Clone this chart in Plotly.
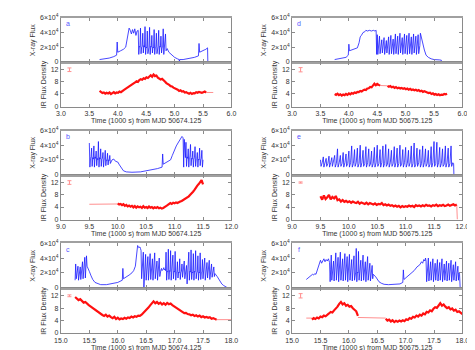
import plotly.graph_objects as go

# X-ray flux (units of 1e4) against time (1000 s)
xray_a_t = [3.68, 3.75, 3.85, 3.93, 3.98, 3.99, 4.0, 4.05, 4.1, 4.14, 4.17, 4.2, 4.22, 4.24, 4.26, 4.28, 4.3, 4.32, 4.34,
            4.36, 4.37, 4.38, 4.39, 4.40, 4.41, 4.42, 4.43, 4.44, 4.45, 4.46, 4.47, 4.48, 4.49, 4.50, 4.51,
            4.52, 4.53, 4.54, 4.55, 4.56, 4.57, 4.58, 4.59, 4.60, 4.61, 4.62, 4.63, 4.64, 4.65, 4.66, 4.67,
            4.68, 4.69, 4.70, 4.71, 4.72, 4.73, 4.74, 4.75, 4.76, 4.77, 4.78, 4.79, 4.80, 4.81, 4.82, 4.83,
            4.84, 4.85,
            4.87, 4.9, 4.95, 5.0, 5.05, 5.08, 5.085, 5.09, 5.15, 5.25, 5.35, 5.42, 5.43, 5.44, 5.48, 5.52, 5.55, 5.58, 5.585]
xray_a = [0.3, 0.35, 0.5, 0.7, 0.9, 2.7, 1.3, 1.5, 1.7, 2.0, 3.3, 4.6, 4.3, 3.8, 4.4, 3.9, 4.5, 3.6, 4.2,
          4.3, 1.0, 2.1, 2.0, 4.6, 1.1, 2.0, 2.1, 3.9, 1.2, 2.2, 2.0, 4.8, 1.0, 2.0, 1.9,
          4.2, 1.1, 1.9, 2.0, 4.7, 1.0, 2.1, 2.0, 3.6, 1.2, 2.0, 1.9, 4.4, 1.0, 1.9, 2.0,
          3.9, 1.1, 2.0, 2.1, 4.3, 1.0, 2.1, 2.0, 3.5, 1.2, 1.9, 2.0, 4.5, 1.0, 2.0, 2.1,
          3.8, 1.5,
          1.8, 1.3, 0.9, 0.6, 0.4, 0.3, 0.0, 0.3, 0.3, 0.4, 0.6, 0.8, 2.5, 1.3, 1.4, 1.6, 1.7, 1.9, 0.0]

xray_b_t = [9.50, 9.51, 9.52, 9.53, 9.54, 9.55, 9.56, 9.57, 9.58, 9.59, 9.60, 9.61, 9.62, 9.63, 9.64, 9.65,
            9.66, 9.67, 9.68, 9.69, 9.70, 9.71, 9.72, 9.73, 9.74, 9.75, 9.76, 9.77, 9.78, 9.79, 9.80, 9.81,
            9.82, 9.83, 9.84, 9.85, 9.86, 9.87,
            9.90, 9.93, 9.96, 10.0, 10.03, 10.06, 10.1, 10.15, 10.25, 10.4, 10.5, 10.6, 10.7, 10.78, 10.79,
            10.8, 10.85, 10.9, 10.93, 10.96, 11.0, 11.03, 11.06, 11.1, 11.13, 11.15,
            11.16, 11.17, 11.18, 11.19, 11.20, 11.21, 11.22, 11.23, 11.24, 11.25, 11.26, 11.27, 11.28, 11.29,
            11.30, 11.31, 11.32, 11.33, 11.34, 11.35, 11.36, 11.37, 11.38, 11.39, 11.40, 11.41, 11.42, 11.43,
            11.44, 11.45, 11.46, 11.47, 11.48, 11.49, 11.50]
xray_b = [4.3, 1.0, 2.2, 2.4, 3.6, 1.1, 2.3, 2.1, 3.9, 1.0, 2.4, 2.2, 3.2, 1.2, 2.2, 2.0,
          4.5, 1.0, 2.3, 2.1, 3.5, 1.1, 2.1, 2.2, 3.0, 1.0, 2.0, 2.1, 3.3, 1.2, 2.0, 1.9,
          2.9, 1.3, 2.0, 1.9, 2.6, 1.5,
          2.0, 2.1, 1.8, 1.7, 1.3, 0.9, 0.5, 0.35, 0.3, 0.35, 0.5, 0.6, 0.8, 1.0, 2.8,
          1.4, 1.6, 1.8, 2.0, 2.6, 3.4, 3.9, 4.3, 4.9, 5.2, 5.0,
          1.0, 4.8, 2.5, 2.3, 4.4, 1.1, 2.4, 2.2, 3.5, 1.0, 2.3, 2.5, 4.1, 1.2,
          2.2, 2.1, 3.2, 1.0, 2.1, 2.3, 3.8, 1.1, 2.0, 2.2, 3.0, 1.0, 2.1, 2.0,
          3.6, 1.2, 2.0, 2.2, 3.3, 1.0, 2.0]

xray_c_t = [15.25, 15.26, 15.27, 15.28, 15.29, 15.30, 15.31, 15.32, 15.33, 15.34, 15.35, 15.36, 15.37, 15.38,
            15.39, 15.40, 15.41, 15.42, 15.43, 15.44, 15.45,
            15.46, 15.48, 15.5, 15.53, 15.56, 15.6, 15.65, 15.7, 15.8, 15.9, 16.0, 16.08, 16.09, 16.1,
            16.15, 16.2, 16.25, 16.28, 16.31, 16.33, 16.35, 16.37, 16.39, 16.4,
            16.41, 16.42, 16.43, 16.44, 16.45, 16.46, 16.47, 16.48, 16.49, 16.50, 16.51, 16.52, 16.53, 16.54,
            16.55, 16.56, 16.57, 16.58, 16.59, 16.60, 16.61, 16.62, 16.63, 16.64, 16.65, 16.66, 16.67, 16.68,
            16.69, 16.70, 16.71, 16.72, 16.73, 16.74, 16.75, 16.76, 16.77, 16.78, 16.79, 16.80, 16.81, 16.82,
            16.83, 16.84, 16.85, 16.86, 16.87, 16.88, 16.89, 16.90, 16.91, 16.92, 16.93, 16.94, 16.95, 16.96,
            16.97, 16.98, 16.99, 17.00, 17.01, 17.02, 17.03, 17.04, 17.05, 17.06, 17.07, 17.08, 17.09, 17.10,
            17.11, 17.12, 17.13, 17.14, 17.15, 17.16, 17.17, 17.18, 17.19, 17.20, 17.21, 17.22, 17.23, 17.24,
            17.25, 17.26, 17.27, 17.28, 17.29, 17.30, 17.31, 17.32, 17.33, 17.34, 17.35, 17.36, 17.37, 17.38,
            17.39, 17.40, 17.41, 17.42, 17.43, 17.44, 17.45, 17.46, 17.47, 17.48, 17.49, 17.50, 17.51, 17.52,
            17.53, 17.54, 17.55, 17.56, 17.57, 17.58, 17.59, 17.60, 17.61, 17.62, 17.63, 17.64, 17.65, 17.66,
            17.67, 17.68, 17.69, 17.70, 17.71, 17.72,
            17.75, 17.78, 17.8, 17.83, 17.86, 17.9, 17.92, 17.925]
xray_c = [1.0, 3.2, 1.2, 1.9, 1.8, 2.9, 1.0, 2.0, 2.1, 2.8, 1.1, 2.3, 2.2, 3.5,
          1.2, 2.5, 2.6, 4.1, 1.3, 2.8, 4.3,
          2.9, 2.6, 2.2, 1.6, 1.1, 0.7, 0.5, 0.4, 0.4, 0.5, 0.7, 1.0, 2.6, 1.2,
          1.4, 1.7, 2.0, 2.3, 2.9, 4.5, 5.7, 5.4, 5.5, 5.3,
          5.0, 1.2, 2.5, 2.4, 4.8, 0.0, 2.3, 2.2, 4.5, 1.0, 2.2, 2.1, 4.2, 1.0,
          2.3, 2.2, 4.6, 1.1, 2.1, 2.0, 3.9, 1.0, 2.2, 2.1, 4.7, 1.2, 2.0, 2.2,
          3.6, 1.0, 2.1, 2.0, 4.0, 1.5, 2.3, 2.4, 2.6, 2.3, 2.4, 2.5, 2.7, 2.4,
          2.5, 2.3, 4.8, 1.0, 2.2, 2.1, 5.2, 1.1, 2.3, 2.2, 5.0, 1.0, 2.1, 2.0,
          4.4, 1.2, 2.2, 2.1, 4.9, 1.0, 2.0, 2.1, 3.5, 1.3, 2.1, 2.0, 3.9, 1.1,
          2.0, 2.2, 3.2, 1.4, 2.1, 2.0, 3.6, 1.2, 2.0, 1.9, 3.0, 0.5, 2.0, 2.1,
          4.8, 1.0, 2.2, 2.1, 5.1, 1.1, 2.1, 2.0, 4.6, 1.0, 2.2, 2.1, 5.0, 1.2,
          2.0, 2.1, 4.3, 1.0, 2.1, 2.0, 4.7, 1.1, 2.0, 2.1, 3.8, 1.2, 2.1, 2.0,
          4.0, 1.0, 2.0, 1.9, 3.4, 1.3, 2.0, 2.1, 3.7, 1.1, 1.9, 2.0, 3.2, 1.4,
          2.0, 1.9, 2.8, 1.5, 1.9, 1.8,
          1.5, 1.1, 0.8, 0.5, 0.3, 0.15, 0.1, 0.0]

xray_d_t = [3.75, 3.85, 3.95, 3.99, 4.0, 4.01, 4.05, 4.1, 4.15, 4.18, 4.2, 4.22, 4.25, 4.28, 4.3, 4.33,
            4.36, 4.4, 4.43, 4.46, 4.48, 4.49,
            4.50, 4.51, 4.52, 4.53, 4.54, 4.55, 4.56, 4.57, 4.58, 4.59, 4.60, 4.61, 4.62, 4.63, 4.64, 4.65,
            4.66, 4.67, 4.68, 4.69, 4.70, 4.71, 4.72, 4.73, 4.74, 4.75, 4.76, 4.77, 4.78, 4.79, 4.80, 4.81,
            4.82, 4.83, 4.84, 4.85, 4.86, 4.87, 4.88, 4.89, 4.90, 4.91, 4.92, 4.93, 4.94, 4.95, 4.96, 4.97,
            4.98, 4.99, 5.00, 5.01, 5.02, 5.03, 5.04, 5.05, 5.06, 5.07, 5.08, 5.09, 5.10, 5.11, 5.12, 5.13,
            5.14, 5.15, 5.16, 5.17, 5.18, 5.19, 5.20, 5.21, 5.22, 5.23,
            5.25, 5.26, 5.28, 5.3, 5.33, 5.36, 5.4, 5.45, 5.5, 5.6, 5.63, 5.632]
xray_d = [0.3, 0.4, 0.6, 0.9, 2.4, 1.5, 1.6, 1.7, 1.9, 2.6, 3.4, 3.6, 4.0, 4.1, 4.3, 4.2,
          4.3, 4.2, 4.3, 4.2, 4.3, 1.0,
          3.7, 1.0, 2.2, 2.0, 3.5, 1.1, 2.0, 2.1, 3.0, 1.2, 2.1, 1.9, 3.3, 1.0, 1.9, 2.0,
          2.9, 1.2, 2.0, 2.1, 3.4, 1.0, 2.1, 2.0, 3.6, 1.1, 2.0, 1.9, 3.1, 1.0, 1.9, 2.0,
          3.8, 1.1, 2.1, 2.0, 3.5, 1.0, 2.0, 2.1, 3.9, 1.2, 2.1, 2.0, 3.3, 1.0, 1.9, 2.0,
          3.8, 1.1, 2.0, 2.1, 3.6, 1.0, 2.1, 2.0, 3.9, 1.1, 2.0, 1.9, 3.4, 1.0, 1.9, 2.0,
          3.8, 1.2, 2.1, 2.0, 3.5, 1.0, 2.0, 2.1, 3.7, 1.1,
          2.2, 3.9, 3.2, 2.6, 1.6, 0.9, 0.6, 0.4, 0.3, 0.25, 0.2, 0.0]

xray_e_t = [9.50, 9.51, 9.53, 9.55, 9.56, 9.58, 9.60, 9.61, 9.63, 9.65, 9.66, 9.68, 9.70, 9.71, 9.73,
            9.75, 9.76, 9.78, 9.80, 9.81, 9.83, 9.85, 9.86, 9.88, 9.90, 9.91, 9.93, 9.95, 9.96, 9.98,
            10.00, 10.01, 10.03, 10.05, 10.06, 10.08, 10.10, 10.11, 10.13, 10.15, 10.16, 10.18,
            10.20, 10.21, 10.23, 10.25, 10.26, 10.28, 10.30, 10.31, 10.33, 10.35, 10.36, 10.38,
            10.40, 10.41, 10.43, 10.45, 10.46, 10.48, 10.50, 10.51, 10.53, 10.55, 10.56, 10.58,
            10.60, 10.61, 10.63, 10.65, 10.66, 10.68, 10.70, 10.71, 10.73, 10.75, 10.76, 10.78,
            10.80, 10.81, 10.83, 10.85, 10.86, 10.88, 10.90, 10.91, 10.93, 10.95, 10.96, 10.98,
            11.00, 11.01, 11.03, 11.05, 11.06, 11.08, 11.10, 11.11, 11.13, 11.15, 11.16, 11.18,
            11.20, 11.21, 11.23, 11.25, 11.26, 11.28, 11.30, 11.31, 11.33, 11.35, 11.36, 11.38,
            11.40, 11.41, 11.43, 11.45, 11.46, 11.48, 11.50, 11.51, 11.53, 11.55, 11.56, 11.58,
            11.60, 11.61, 11.63, 11.65, 11.66, 11.68, 11.70, 11.71, 11.73, 11.75, 11.76, 11.78,
            11.80, 11.81, 11.83, 11.845, 11.85]
xray_e = [2.0, 1.1, 1.6, 2.4, 1.0, 1.7, 2.2, 1.1, 1.5, 2.5, 1.0, 1.6, 2.3, 1.1, 1.7,
          2.6, 1.0, 1.5, 3.5, 1.0, 1.6, 2.6, 1.1, 1.5, 3.0, 1.0, 1.6, 2.8, 1.1, 1.5,
          3.2, 1.0, 1.6, 3.9, 1.0, 1.5, 3.4, 1.1, 1.6, 3.6, 1.0, 1.5,
          4.0, 1.0, 1.6, 3.3, 1.1, 1.5, 3.8, 1.0, 1.6, 3.5, 1.1, 1.4,
          3.2, 1.0, 1.5, 3.7, 1.0, 1.6, 4.0, 1.1, 1.5, 3.4, 1.0, 1.6,
          3.9, 1.0, 1.5, 4.1, 1.1, 1.4, 3.5, 1.0, 1.6, 3.3, 1.1, 1.5,
          3.8, 1.0, 1.6, 3.6, 1.0, 1.5, 4.0, 1.1, 1.4, 3.4, 1.0, 1.6,
          3.7, 1.0, 1.5, 3.3, 1.1, 1.6, 3.9, 1.0, 1.5, 4.3, 1.0, 1.4,
          3.6, 1.1, 1.6, 3.4, 1.0, 1.5, 3.9, 1.0, 1.6, 3.5, 1.1, 1.5,
          3.3, 1.0, 1.4, 3.8, 1.0, 1.6, 4.5, 1.1, 1.5, 4.4, 1.0, 1.6,
          3.7, 1.0, 1.5, 3.5, 1.1, 1.4, 3.9, 1.0, 1.6, 3.6, 1.0, 1.5,
          3.9, 1.1, 1.6, 1.5, 0.0]

xray_f_t = [15.25, 15.28, 15.3, 15.33, 15.36, 15.38, 15.4, 15.42, 15.44, 15.46, 15.48, 15.5, 15.52, 15.54,
            15.56, 15.58, 15.6, 15.62, 15.64, 15.66, 15.67, 15.68,
            15.69, 15.70, 15.71, 15.72, 15.73, 15.74, 15.75, 15.76, 15.77, 15.78, 15.79, 15.80, 15.81, 15.82,
            15.83, 15.84, 15.85, 15.86, 15.87, 15.88, 15.89, 15.90, 15.91, 15.92, 15.93, 15.94, 15.95, 15.96,
            15.97, 15.98, 15.99, 16.00, 16.01, 16.02, 16.03, 16.04, 16.05, 16.06, 16.07, 16.08, 16.09, 16.10,
            16.11, 16.12, 16.13, 16.14, 16.15, 16.16, 16.17, 16.18, 16.19, 16.20, 16.21, 16.22, 16.23, 16.24,
            16.25, 16.26, 16.27, 16.28, 16.29, 16.30, 16.31, 16.32, 16.33, 16.34, 16.35, 16.36, 16.37, 16.38,
            16.39, 16.40, 16.41, 16.42, 16.43, 16.44,
            16.47, 16.5, 16.53, 16.57, 16.62, 16.7, 16.8, 16.9, 16.95, 16.96, 16.97, 17.0, 17.05, 17.1,
            17.15, 17.2, 17.25, 17.28, 17.3, 17.32, 17.34, 17.35,
            17.36, 17.37, 17.38, 17.39, 17.40, 17.41, 17.42, 17.43, 17.44, 17.45, 17.46, 17.47, 17.48, 17.49,
            17.50, 17.51, 17.52, 17.53, 17.54, 17.55, 17.56, 17.57, 17.58, 17.59, 17.60, 17.61, 17.62, 17.63,
            17.64, 17.65, 17.66, 17.67, 17.68, 17.69, 17.70, 17.71, 17.72, 17.73, 17.74, 17.75, 17.76, 17.77,
            17.78, 17.79, 17.80, 17.81, 17.82, 17.83, 17.84, 17.85, 17.86, 17.87, 17.88, 17.89, 17.90, 17.91,
            17.92, 17.93, 17.94, 17.95, 17.96]
xray_f = [1.1, 1.3, 1.5, 1.6, 1.8, 1.7, 1.9, 1.8, 2.3, 3.0, 3.5, 3.7, 3.3, 3.6,
          3.9, 3.5, 3.8, 3.6, 3.9, 3.4, 0.8, 2.5,
          4.4, 1.0, 2.2, 2.1, 3.6, 0.9, 2.0, 2.2, 4.7, 1.0, 2.1, 2.0, 4.1, 0.8,
          2.2, 2.1, 4.8, 1.0, 2.0, 2.1, 3.9, 0.9, 2.1, 2.0, 4.6, 1.0, 2.2, 2.1,
          4.2, 0.8, 2.0, 2.2, 4.5, 1.0, 2.1, 2.0, 3.8, 0.9, 2.2, 2.1, 4.3, 1.0,
          2.0, 2.1, 5.3, 0.8, 2.1, 2.0, 4.9, 1.0, 2.2, 2.1, 3.7, 0.9, 2.0, 2.1,
          4.4, 1.0, 2.1, 2.0, 3.5, 0.8, 2.0, 2.1, 4.2, 1.0, 2.1, 2.0, 3.3, 0.9,
          1.9, 2.0, 3.0, 1.2, 1.8, 1.7,
          1.5, 1.1, 0.8, 0.6, 0.45, 0.4, 0.4, 0.5, 0.7, 2.4, 1.1, 1.3, 1.6, 1.9,
          2.3, 2.8, 3.1, 3.5, 3.3, 3.8, 3.6, 4.0,
          3.6, 0.8, 2.2, 2.1, 4.0, 0.9, 2.0, 2.1, 3.5, 1.0, 2.1, 2.0, 3.9, 0.8,
          2.2, 2.0, 3.3, 1.0, 2.0, 2.1, 3.8, 0.9, 2.1, 2.0, 3.4, 1.0, 2.0, 2.2,
          3.9, 0.8, 2.1, 2.0, 3.2, 1.0, 2.0, 2.1, 3.6, 0.9, 2.1, 2.0, 3.3, 1.0,
          2.0, 1.9, 3.7, 0.8, 2.1, 2.0, 3.1, 1.0, 1.9, 2.0, 3.5, 0.9, 2.0, 2.1,
          2.9, 1.0, 2.0, 1.8, 0.0]

# IR flux density, sampled evenly from a start time with a fixed step
ir_a_start, ir_a_step = 3.68, 0.025
ir_a = [5.0, 4.6, 4.3, 4.5, 4.1, 4.4, 4.2, 4.5, 4.0, 4.3, 4.6, 4.2, 4.5, 4.4, 4.8, 4.6, 5.1, 5.3, 5.6, 5.9,
        6.2, 6.5, 6.8, 7.0, 7.5, 7.8, 8.2, 8.0, 8.6, 8.9, 8.7, 9.2, 9.0, 9.5, 9.3, 9.8, 10.2, 9.7, 10.4, 9.9,
        10.1, 9.4, 9.2, 8.8, 9.0, 8.4, 8.1, 7.6, 7.4, 7.0, 6.6, 6.5, 6.1, 5.9, 5.5, 5.4, 5.0, 5.2, 4.8, 4.9,
        4.5, 4.6, 4.3, 4.1, 4.4, 4.0, 4.3, 4.2, 4.6, 4.4, 4.7, 4.5, 4.4, 4.6, 4.8, 4.5]
ir_a_gap_t = [5.555, 5.68]
ir_a_gap = [4.5, 4.5]

ir_b_start, ir_b_step = 10.0, 0.025
ir_b = [5.2, 4.8, 5.0, 4.6, 4.9, 4.4, 4.7, 4.2, 4.5, 4.1,
        4.4, 3.9, 4.3, 3.8, 4.2, 3.9, 4.1, 3.7, 4.3, 3.8,
        4.0, 3.7, 4.2, 3.8, 4.0, 3.6, 3.9, 3.7, 4.0, 3.6,
        3.8, 3.5, 3.7, 3.9, 4.3, 4.6, 5.0, 5.3, 5.0, 5.4,
        5.2, 5.5, 5.3, 5.7, 5.8, 6.0, 6.3, 6.5, 6.8, 7.2,
        7.5, 8.0, 8.4, 9.0, 9.6, 10.4, 11.0, 11.5, 12.3, 12.8, 11.4]
ir_b_gap_t = [9.5, 10.0]
ir_b_gap = [4.9, 5.0]

ir_c_start, ir_c_step = 15.25, 0.03
ir_c = [11.6, 11.0, 10.6, 10.9, 10.2, 9.8, 10.0, 9.4, 9.0, 8.6,
        8.2, 7.6, 7.3, 7.0, 6.4, 6.0, 5.8, 5.5, 5.9, 5.3,
        5.6, 5.1, 4.8, 5.2, 4.5, 4.9, 4.4, 4.7, 4.5, 4.9,
        4.6, 5.0, 4.8, 5.3, 5.0, 5.4, 5.2, 5.6, 5.5, 5.9,
        6.4, 7.0, 7.6, 8.2, 8.9, 9.5, 10.2, 9.6, 10.0, 9.4,
        9.8, 9.2, 9.6, 9.1, 9.7, 9.3, 9.5, 9.0, 8.6, 8.2,
        7.8, 7.4, 7.0, 6.8, 6.4, 6.5, 6.1, 6.0, 5.7, 5.9,
        5.5, 5.7, 5.3, 5.6, 5.1, 5.4, 5.0, 5.2, 4.9, 5.1,
        4.6, 4.8, 4.4, 4.3]
ir_c_gap_t = [17.74, 18.0]
ir_c_gap = [4.3, 4.3]

ir_d1_start, ir_d_step = 3.75, 0.025
ir_d1 = [4.0, 3.7, 4.1, 3.6, 3.9, 3.5, 3.8, 3.6, 4.0, 3.7, 4.2, 3.9, 4.3, 4.1, 4.5, 4.3, 4.7, 4.6, 5.0, 4.8,
         5.2, 5.4, 5.3, 5.8, 5.9, 6.3, 6.2, 6.8, 7.4, 6.9, 7.3, 7.0, 6.8]
ir_d2_start = 4.68
ir_d2 = [6.7, 6.4, 6.6, 6.2, 6.4, 6.0, 6.3, 5.9, 6.1, 5.8, 6.0, 5.7, 5.9, 5.6, 5.8, 5.4, 5.7, 5.3, 5.5, 5.2,
         5.4, 5.1, 5.3, 4.9, 5.1, 4.7, 4.9, 4.6, 4.5, 4.3, 4.4, 4.0, 4.2, 3.8, 4.0, 3.7, 3.9, 3.6, 3.8, 3.7,
         4.0, 3.9, 4.1]
ir_d_gap_t = [4.55, 4.68]
ir_d_gap = [6.8, 6.7]

ir_e_start, ir_e_step = 9.5, 0.03
ir_e = [7.5, 6.4, 7.8, 6.6, 7.2, 8.0, 6.5, 7.3, 6.8, 7.6,
        6.2, 6.5, 5.8, 6.3, 5.7, 6.0, 5.6, 5.9, 5.4, 5.8,
        5.5, 5.3, 5.7, 5.1, 5.5, 5.2, 5.0, 5.4, 4.9, 5.3,
        5.1, 4.8, 5.2, 4.7, 5.0, 4.9, 5.3, 4.6, 4.9, 4.5,
        4.8, 4.4, 4.6, 4.2, 4.5, 4.1, 4.4, 3.9, 4.3, 4.0,
        4.3, 4.1, 4.5, 4.2, 4.4, 4.0, 4.6, 4.3, 4.5, 4.2,
        4.6, 4.3, 4.7, 4.4, 4.5, 4.2, 4.6, 4.4, 4.8, 4.3,
        4.6, 4.4, 4.7, 4.3, 4.5, 4.8, 4.4, 4.6, 4.9, 4.5, 4.8]
ir_e_gap_t = [11.9, 11.91]
ir_e_gap = [4.8, 0.0]

ir_f1_start, ir_f_step = 15.35, 0.03
ir_f1 = [4.3, 4.8, 4.5, 5.0, 4.7, 5.3, 5.1, 5.6, 5.4, 6.0,
         6.3, 6.8, 6.6, 7.3, 7.8, 8.5, 9.4, 10.0, 9.2, 9.6,
         8.8, 9.1, 8.5, 8.7, 8.0, 7.6, 7.0, 5.5]
ir_f2_start = 16.65
ir_f2 = [4.6, 4.0, 4.3, 3.7, 4.1, 3.5, 3.9, 3.6, 4.0, 3.7,
         4.1, 3.8, 4.4, 4.2, 4.8, 4.6, 5.2, 5.0, 5.6, 5.3,
         5.9, 5.6, 6.3, 6.0, 6.8, 6.6, 7.3, 7.0, 7.8, 8.3,
         8.1, 9.0, 9.6, 8.8, 9.2, 8.5, 8.0, 8.3, 7.6, 7.9,
         7.2, 7.5, 6.8, 7.0, 6.4, 6.1]
ir_f_gap_t = [15.25, 15.35, None, 16.16, 16.65]
ir_f_gap = [4.8, 4.8, None, 5.0, 4.8]

# typical IR error bar shown in the corner of each panel: (time, value, half-length)
ir_errbar = {"a": (3.15, 12.0, 0.6), "b": (9.15, 12.0, 0.6), "c": (15.15, 12.0, 0.3),
             "d": (3.15, 12.0, 0.7), "e": (9.15, 12.0, 0.2), "f": (15.15, 12.0, 0.7)}

xray_ticks = [0, 2, 4, 6]
xray_labels = ["0", "2×10<sup>4</sup>", "4×10<sup>4</sup>", "6×10<sup>4</sup>"]
ir_ticks = [0, 4, 8, 12]

BLUE = "#1a1aff"
RED = "#ff1010"
PALE = "#ff9090"
FRAME = "#8a8a8a"
FONT = dict(family="Liberation Sans, Arial, sans-serif", size=7, color="#333333")

panels = [
    dict(name="a", col=0, row=0, xr=(3.0, 6.0), mjd="50674.125", xt=xray_a_t, xy=xray_a,
         ir=[(ir_a_start, ir_a_step, ir_a)], gap=(ir_a_gap_t, ir_a_gap)),
    dict(name="b", col=0, row=1, xr=(9.0, 12.0), mjd="50674.125", xt=xray_b_t, xy=xray_b,
         ir=[(ir_b_start, ir_b_step, ir_b)], gap=(ir_b_gap_t, ir_b_gap)),
    dict(name="c", col=0, row=2, xr=(15.0, 18.0), mjd="50674.125", xt=xray_c_t, xy=xray_c,
         ir=[(ir_c_start, ir_c_step, ir_c)], gap=(ir_c_gap_t, ir_c_gap)),
    dict(name="d", col=1, row=0, xr=(3.0, 6.0), mjd="50675.125", xt=xray_d_t, xy=xray_d,
         ir=[(ir_d1_start, ir_d_step, ir_d1), (ir_d2_start, ir_d_step, ir_d2)], gap=(ir_d_gap_t, ir_d_gap)),
    dict(name="e", col=1, row=1, xr=(9.0, 12.0), mjd="50675.125", xt=xray_e_t, xy=xray_e,
         ir=[(ir_e_start, ir_e_step, ir_e)], gap=(ir_e_gap_t, ir_e_gap)),
    dict(name="f", col=1, row=2, xr=(15.0, 18.0), mjd="50675.125", xt=xray_f_t, xy=xray_f,
         ir=[(ir_f1_start, ir_f_step, ir_f1), (ir_f2_start, ir_f_step, ir_f2)], gap=(ir_f_gap_t, ir_f_gap)),
]

# plot area in pixels of the 475x350 page
W, H = 475, 350
col_px = [(47.3, 223.0), (285.5, 461.0)]
row_px = [(6.0, 51.5, 96.5), (121.0, 166.5, 212.0), (236.0, 282.0, 328.0)]

fig = go.Figure()
layout = {}


def axname(kind, n):
    return kind + ("axis" if n == 1 else "axis%d" % n)


def ref(kind, n):
    return kind + ("" if n == 1 else str(n))


common = dict(showgrid=False, zeroline=False, showline=True, linecolor=FRAME, linewidth=1,
              mirror="ticks", ticks="inside", ticklen=3, tickcolor=FRAME, tickfont=FONT)

for i, p in enumerate(panels):
    nt, nb = 2 * i + 1, 2 * i + 2
    x0, x1 = col_px[p["col"]]
    top, mid, bot = row_px[p["row"]]
    xdom = [x0 / W, x1 / W]

    layout[axname("x", nt)] = dict(common, domain=xdom, range=list(p["xr"]), anchor=ref("y", nt),
                                   dtick=0.5, tick0=0, showticklabels=False,
                                   linewidth=2, linecolor="#a0a0a0")
    layout[axname("y", nt)] = dict(common, domain=[1 - mid / H, 1 - top / H], range=[-0.1, 6.0],
                                   anchor=ref("x", nt), tickvals=xray_ticks, ticktext=xray_labels,
                                   title=dict(text="X-ray Flux", font=FONT, standoff=3))
    layout[axname("x", nb)] = dict(common, domain=xdom, range=list(p["xr"]), anchor=ref("y", nb),
                                   dtick=0.5, tick0=0, tickformat=".1f",
                                   title=dict(text="Time (1000 s) from MJD " + p["mjd"], font=FONT, standoff=0))
    layout[axname("y", nb)] = dict(common, domain=[1 - bot / H, 1 - mid / H], range=[-0.15, 14.4],
                                   anchor=ref("x", nb), tickvals=ir_ticks,
                                   title=dict(text="IR Flux Density", font=FONT, standoff=3))

    fig.add_trace(go.Scatter(x=p["xt"], y=p["xy"], mode="lines", line=dict(color=BLUE, width=0.8),
                             xaxis=ref("x", nt), yaxis=ref("y", nt)))

    gt, gy = p["gap"]
    fig.add_trace(go.Scatter(x=gt, y=gy, mode="lines", line=dict(color=PALE, width=1),
                             xaxis=ref("x", nb), yaxis=ref("y", nb)))
    for start, step, vals in p["ir"]:
        fig.add_trace(go.Scatter(x0=start, dx=step, y=vals, mode="lines", line=dict(color=RED, width=2.2),
                                 xaxis=ref("x", nb), yaxis=ref("y", nb)))

    et, ev, eh = ir_errbar[p["name"]]
    fig.add_trace(go.Scatter(x=[et], y=[ev], mode="markers", marker=dict(size=1, color=PALE),
                             error_y=dict(type="data", array=[eh], color=PALE, thickness=1, width=2),
                             xaxis=ref("x", nb), yaxis=ref("y", nb)))

    fig.add_annotation(x=p["xr"][0] + 0.12, y=5.2, xref=ref("x", nt), yref=ref("y", nt), text=p["name"],
                       showarrow=False, font=dict(FONT, color="#5555ff", size=7))

fig.update_layout(layout)
fig.update_layout(width=W, height=H, margin=dict(l=0, r=0, t=0, b=0), showlegend=False,
                  paper_bgcolor="white", plot_bgcolor="white")

fig.write_html("out.html")
